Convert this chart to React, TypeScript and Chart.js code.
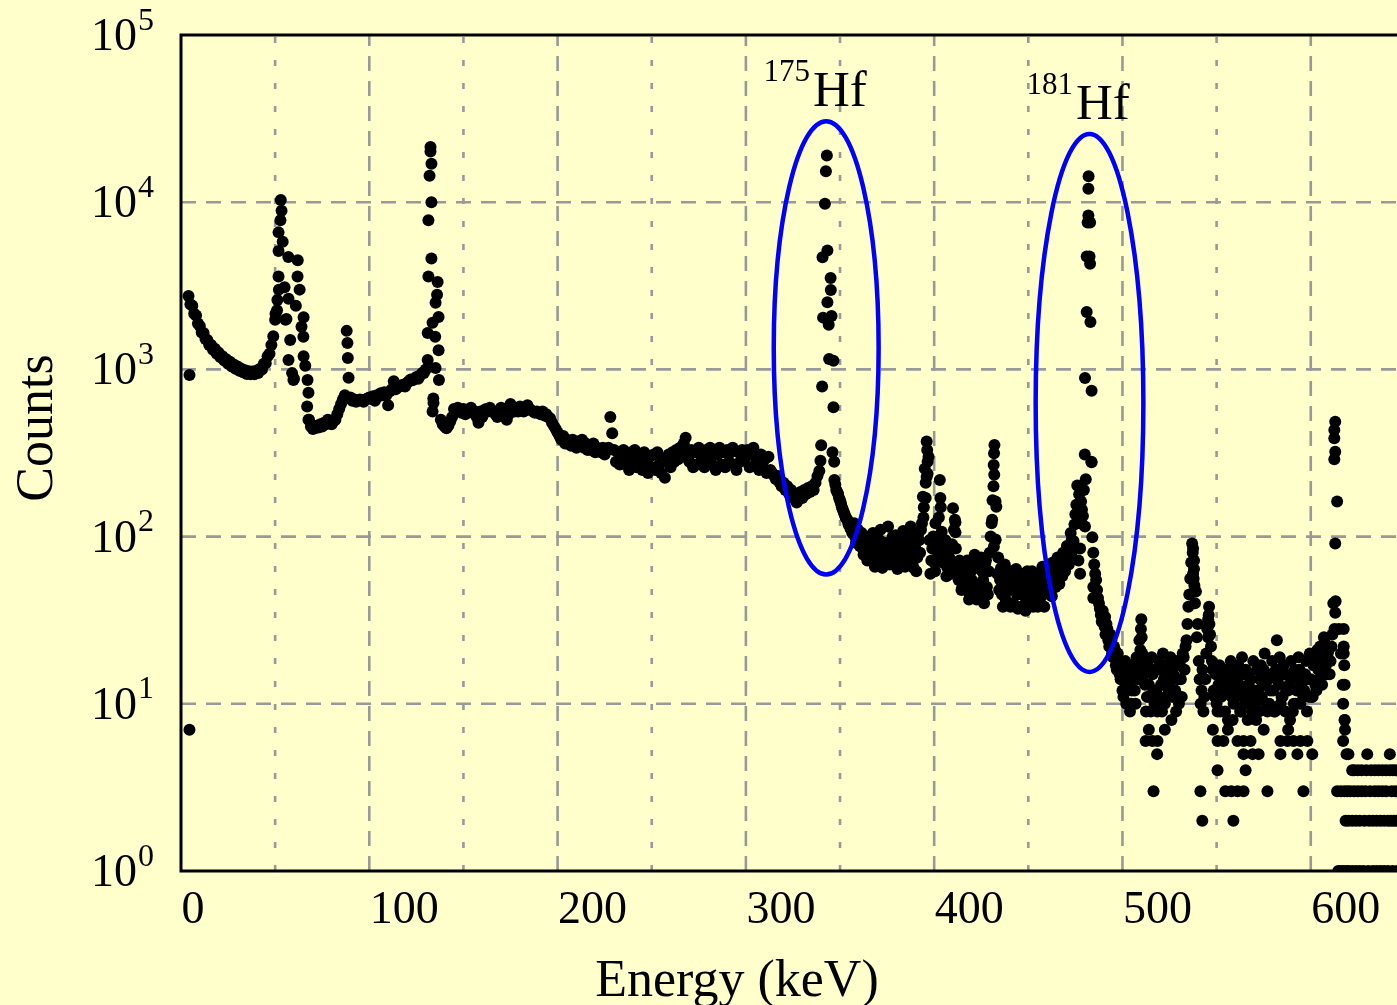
import React, { useEffect, useRef } from "react";
import { Chart, registerables } from "chart.js";

Chart.register(...registerables);

// ---------------- data ----------------
// spectrum counts, one value per keV channel; each block starts at its given energy
const KEV_PER_CHANNEL = 1;

const block004Start = 4;
const block004Counts = [
  2750, 2450, 2400, 2150, 2100, 1880, 1820, 1660, 1650, 1520,
  1500, 1400, 1400, 1310, 1330, 1240, 1260, 1180, 1200, 1130,
  1150, 1080, 1110, 1040, 1070, 1010, 1040, 980, 1010, 960,
  990, 940, 975, 935, 970, 935, 980, 950, 1010, 1000,
  1080, 1090, 1200, 1240, 1400, 1580, 1980, 2260, 3000, 10300,
  5800, 3100, 2000, 4700, 1500, 950, 880, 2400, 4500, 3000,
  1800, 1570, 1050, 600, 500, 455, 440, 445, 460, 450,
  470, 455, 480, 470, 500, 480, 470, 490, 500, 540,
  580, 620, 660, 700, 1700, 890, 680, 650, 660, 640,
  650, 660, 655, 640, 660, 670,
];

const block100Start = 100;
const block100Counts = [
  680, 665, 690, 650, 700, 690, 720, 700, 730, 700,
  610, 740, 760, 850, 760, 780, 790, 800, 810, 790,
  830, 850, 870, 860, 880, 900, 880, 920, 950, 950,
  1000, 1650, 14400, 17000, 670, 1570, 2800, 865, 500, 470,
  455, 445, 460, 490, 520, 580, 560, 590, 570, 550,
  580, 540, 570, 560, 590, 550, 560, 520, 480, 560,
  520, 570, 580, 560, 590, 570, 560, 540, 520, 560,
  590, 570, 560, 500, 540, 620, 570, 560, 580, 560,
  600, 570, 560, 580, 610, 580, 570, 560, 550, 560,
  550, 540, 560, 530, 540, 520, 510, 480, 460, 440,
];

const block200Start = 200;
const block200Counts = [
  420, 400, 380, 400, 360, 380, 370, 350, 380, 360,
  340, 370, 350, 380, 340, 360, 330, 350, 330, 360,
  320, 340, 330, 320, 340, 310, 330, 340, 520, 415,
  330, 280, 320, 270, 310, 330, 270, 300, 250, 320,
  280, 330, 260, 310, 290, 250, 320, 270, 240, 300,
  260, 310, 250, 320, 270, 240, 290, 225, 280, 310,
  260, 320, 280, 330, 290, 340, 300, 360, 390, 320,
  280, 330, 260, 320, 270, 340, 280, 320, 260, 330,
  290, 340, 270, 320, 250, 310, 340, 270, 320, 260,
  330, 280, 320, 340, 270, 250, 320, 280, 330, 290,
];

const block300Start = 300;
const block300Counts = [
  300, 330, 260, 310, 340, 270, 300, 250, 310, 260,
  290, 240, 300, 250, 240, 230, 220, 230, 210, 200,
  210, 190, 200, 180, 190, 170, 180, 160, 175, 185,
  170, 190, 180, 195, 185, 200, 190, 210, 230, 247,
  352, 2040, 9780, 19000, 1850, 3520, 320, 218, 190, 180,
  165, 150, 140, 130, 125, 120, 110, 115, 100, 105,
  95, 100, 85, 95, 80, 90, 75, 88, 70, 90,
  78, 95, 72, 85, 68, 80, 90, 70, 100, 75,
  85, 65, 90, 72, 95, 80, 105, 70, 90, 65,
  85, 75, 95, 110, 173, 255, 370, 300, 60, 85,
];

const block400Start = 400;
const block400Counts = [
  70, 90, 75, 218, 107, 80, 95, 65, 75, 60,
  148, 126, 70, 55, 65, 50, 60, 48, 58, 45,
  55, 70, 50, 65, 45, 75, 55, 68, 50, 62,
  100, 165, 353, 151, 75, 55, 45, 60, 42, 55,
  48, 62, 40, 58, 45, 52, 38, 60, 44, 55,
  40, 50, 62, 42, 55, 38, 48, 60, 45, 52,
  65, 50, 58, 70, 55, 65, 60, 72, 58, 70,
  75, 80, 72, 95, 94, 136, 202, 179, 162, 133,
  310, 2205, 14300, 1920, 99, 68, 55, 43, 37, 31,
  33, 26, 28, 22, 24, 19, 21, 16, 18, 14,
];

const block500Start = 500;
const block500Counts = [
  12, 15, 10, 13, 9, 12, 14, 10, 16, 24,
  32, 18, 13, 11, 13, 9, 15, 10, 12, 11,
  16, 9, 14, 11, 17, 13, 8, 15, 12, 18,
  10, 14, 20, 16, 24, 38, 56, 91, 72, 47,
  30, 14, 12, 9, 14, 28, 38, 22, 16, 11,
  10, 13, 9, 15, 12, 12, 8, 14, 11, 10,
  16, 12, 13, 9, 15, 10, 11, 13, 14, 9,
  12, 8, 12, 14, 11, 16, 13, 9, 10, 15,
  12, 9, 24, 13, 10, 11, 15, 12, 12, 8,
  14, 10, 10, 14, 16, 13, 11, 15, 9, 11,
];

const block600Start = 600;
const block600Counts = [
  14, 11, 18, 12, 16, 22, 13, 25, 17, 20,
  15, 22, 40, 487, 162, 28, 20, 13, 8, 5,
  1, 3, 2, 4, 1, 3, 2, 4, 1, 3,
  5, 2, 4, 1, 3, 2, 4, 1, 3, 2,
  4, 1, 5, 3, 2, 4, 1,
];

// half-keV channels between the blocks above (noisy region 347.5 ... 611.5 keV)
const halfStepStart = 347.5;
const halfStepCounts = [
  205, 185, 170, 158, 145, 135, 128, 118, 112, 105,
  120, 92, 110, 88, 105, 78, 100, 72, 95, 82,
  105, 66, 98, 70, 110, 65, 92, 75, 115, 68,
  95, 80, 102, 64, 98, 78, 108, 66, 92, 76,
  115, 68, 96, 62, 104, 80, 120, 150, 210, 280,
  95, 72, 100, 62, 82, 130, 95, 70, 88, 58,
  80, 68, 90, 110, 85, 62, 72, 48, 68, 52,
  72, 42, 62, 48, 78, 42, 70, 52, 62, 40,
  72, 45, 80, 120, 200, 95, 60, 48, 65, 38,
  68, 50, 62, 38, 55, 48, 64, 37, 58, 45,
  52, 36, 62, 46, 57, 38, 60, 44, 54, 40,
  66, 38, 58, 46, 68, 44, 62, 50, 75, 52,
  66, 80, 62, 88, 68, 105, 82, 118, 155, 140,
  120, 145, 190, 220, 7550, 4730, 280, 80, 60, 48,
  40, 34, 36, 29, 30, 24, 26, 20, 22, 17,
  20, 15, 17, 11, 18, 13, 16, 10, 17, 12,
  19, 14, 21, 20, 15, 9, 17, 11, 19, 12,
  16, 9, 18, 13, 20, 10, 15, 12, 19, 11,
  17, 9, 14, 17, 11, 19, 22, 30, 45, 70,
  60, 40, 25, 18, 10, 16, 11, 20, 32, 26,
  18, 12, 15, 9, 17, 11, 14, 9, 16, 13,
  18, 8, 14, 11, 17, 9, 19, 12, 16, 8,
  15, 11, 18, 10, 16, 9, 17, 13, 20, 10,
  14, 12, 18, 9, 16, 14, 19, 11, 17, 9,
  15, 13, 18, 9, 16, 12, 19, 10, 15, 12,
  18, 14, 20, 11, 17, 13, 21, 14, 19, 17,
  23, 15, 21, 18, 26,
];

// extra channels inside peaks and scattered points (energy keV, counts)
const xrayEnergy = [4.5, 4.5, 53.4, 52.8, 51.8, 51.8, 51.8, 61.9, 51.2, 57.1, 50.2, 55.5, 65.1, 57.1, 59.7, 65.1, 67.2, 67.7, 67.7, 69.8, 88.4, 88.6];
const xrayCounts = [925, 7, 8900, 7800, 6600, 5100, 3600, 3600, 2600, 2650, 2150, 1980, 2050, 1140, 865, 1200, 865, 725, 500, 455, 1440, 1170];

const peak133Energy = [132.5, 132.5, 133.0, 131.4, 133.0, 131.4, 136.3, 135.2, 136.8, 133.6, 136.8, 131.0, 135.2, 134.1, 133.6];
const peak133Counts = [21400, 20100, 10000, 7800, 4600, 3600, 3330, 2500, 2060, 1900, 1300, 1140, 1020, 630, 560];

const peak343Energy = [342.5, 343.3, 340.7, 345.1, 343.3, 345.5, 344.2, 346.5, 340.5, 346.5, 346.9, 339.6];
const peak343Counts = [15300, 5140, 4680, 2980, 2520, 2085, 1153, 1125, 789, 593, 280, 284];

const peak396Energy = [396.3, 396.5, 396.0, 395.5, 394.3, 403.3, 403.5, 400.7, 411.3, 411.3];
const peak396Counts = [330, 238, 227, 170, 130, 170, 150, 120, 122, 106];

const peak432Energy = [431.8, 431.6, 431.9, 432.6, 430.8, 432.6, 431.7];
const peak432Counts = [315, 268, 234, 162, 126, 96, 87];

const peak482Energy = [481.9, 481.9, 482.8, 481.0, 482.8, 480.1, 483.6, 483.6, 480.1, 477.5, 476.6, 477.5, 484.5, 484.5, 490.8];
const peak482Counts = [12050, 8340, 7550, 4730, 4290, 887, 745, 278, 115, 85, 72, 60, 50, 43, 33];

const tailPeakEnergy = [509.8, 510.2, 537.5, 537.3, 538.0, 537.8, 538.2, 545.8, 546.2, 545.5, 612.5, 612.5, 613.0, 612.5, 613.0, 613.2, 613.0, 612.6, 617.5, 617.5, 617.5, 617.8, 618.0, 617.2, 618.0, 618.2, 617.2];
const tailPeakCounts = [28, 25, 85, 80, 64, 56, 51, 34, 30, 25, 434, 387, 322, 290, 91, 41, 35, 28, 28, 22, 20, 17, 13, 10, 8, 7, 6];

const tailLowEnergy = [
  512.3, 515.9, 518.6, 550.5, 553.6, 561.1, 564.3, 568.0, 583.9, 587.6, 590.8, 594.5, 598.2,
  518.4, 564.3, 569.1, 572.3, 583.9, 592.9, 600.8,
  550.5, 565.4,
  516.5, 541.4, 554.6, 557.8, 561.1, 564.3, 577.0, 596.1,
  542.4, 558.9,
  514.0, 522.5, 548.0, 556.0, 575.0, 588.0,
];
const tailLowCounts = [
  6, 6, 6, 6, 6, 6, 6, 6, 6, 6, 6, 6, 6,
  5, 5, 5, 5, 5, 5, 5,
  4, 4,
  3, 3, 3, 3, 3, 3, 3, 3,
  2, 2,
  7, 7, 7, 7, 7, 7,
];

const tailRowEnergy = [
  614.6, 616, 617.5, 619, 622, 626, 630.5, 635, 639, 643.5,
  618.5, 620, 624, 628.5, 633, 637, 641, 642.5, 645.5,
  614, 616, 618, 619.5, 623, 627, 631.5, 636, 640, 645,
  622, 625, 629.5, 634, 638, 642, 643.5,
  620,
];
const tailRowCounts = [
  1, 1, 1, 1, 1, 1, 1, 1, 1, 1,
  2, 2, 2, 2, 2, 2, 2, 2, 2,
  3, 3, 3, 3, 3, 3, 3, 3, 3, 3,
  4, 4, 4, 4, 4, 4, 4,
  5,
];

// axes
const xMin = 0;
const xMax = 645.8;
const xTickValues = [0, 100, 200, 300, 400, 500, 600];
const xMinorGrid = [50, 150, 250, 350, 450, 550];
const yDecades = [0, 1, 2, 3, 4, 5];
const xTitle = "Energy (keV)";
const yTitle = "Counts";

// annotations: isotope labels and ellipses (energy keV / counts)
const labelMass = ["175", "181"];
const labelElement = ["Hf", "Hf"];
const labelEnergy = [335.6, 475.3];
const labelCounts = [37600, 31500];

const ellipseEnergyMin = [314.8, 453.9];
const ellipseEnergyMax = [370.5, 511.1];
const ellipseCountsMin = [59.4, 15.5];
const ellipseCountsMax = [30500, 25600];

// ---------------- style ----------------
const W = 1397;
const H = 1005;
const BG = "#FFFFCC";
const GRID = "#999999";
const FONT = '"Liberation Serif", "Times New Roman", serif';

function buildPoints() {
  const pts: { x: number; y: number }[] = [];
  const blocks: [number, number[]][] = [
    [block004Start, block004Counts],
    [block100Start, block100Counts],
    [block200Start, block200Counts],
    [block300Start, block300Counts],
    [block400Start, block400Counts],
    [block500Start, block500Counts],
    [block600Start, block600Counts],
    [halfStepStart, halfStepCounts],
  ];
  blocks.forEach(([start, counts]) =>
    counts.forEach((c, i) => pts.push({ x: start + i * KEV_PER_CHANNEL, y: c }))
  );
  const extras: [number[], number[]][] = [
    [xrayEnergy, xrayCounts],
    [peak133Energy, peak133Counts],
    [peak343Energy, peak343Counts],
    [peak396Energy, peak396Counts],
    [peak432Energy, peak432Counts],
    [peak482Energy, peak482Counts],
    [tailPeakEnergy, tailPeakCounts],
    [tailLowEnergy, tailLowCounts],
    [tailRowEnergy, tailRowCounts],
  ];
  extras.forEach(([es, cs]) => es.forEach((e, i) => pts.push({ x: e, y: cs[i] })));
  return pts;
}

const decorPlugin = {
  id: "decor",
  beforeDatasetsDraw(chart: any) {
    const { ctx, chartArea: a, scales } = chart;
    const xs = scales.x;
    const ys = scales.y;
    ctx.save();
    ctx.strokeStyle = GRID;
    ctx.lineWidth = 2.6;
    ctx.lineCap = "butt";
    ctx.setLineDash([15, 10]);
    yDecades.forEach((d) => {
      if (d === 0 || d === 5) return;
      const y = ys.getPixelForValue(Math.pow(10, d));
      ctx.beginPath();
      ctx.moveTo(a.left, y);
      ctx.lineTo(a.right, y);
      ctx.stroke();
    });
    xTickValues.forEach((v) => {
      if (v === 0) return;
      const x = xs.getPixelForValue(v);
      ctx.beginPath();
      ctx.moveTo(x, a.bottom);
      ctx.lineTo(x, a.top);
      ctx.stroke();
    });
    ctx.setLineDash([6, 17]);
    xMinorGrid.forEach((v) => {
      const x = xs.getPixelForValue(v);
      ctx.beginPath();
      ctx.moveTo(x, a.bottom);
      ctx.lineTo(x, a.top);
      ctx.stroke();
    });
    ctx.restore();
  },
  afterDatasetsDraw(chart: any) {
    const { ctx, chartArea: a, scales } = chart;
    const xs = scales.x;
    const ys = scales.y;
    ctx.save();
    // frame (left, top, bottom)
    ctx.setLineDash([]);
    ctx.strokeStyle = "#000";
    ctx.lineWidth = 3;
    ctx.lineJoin = "miter";
    ctx.beginPath();
    ctx.moveTo(a.right + 5, a.top);
    ctx.lineTo(a.left, a.top);
    ctx.lineTo(a.left, a.bottom);
    ctx.lineTo(a.right + 5, a.bottom);
    ctx.stroke();

    // ellipses
    ctx.strokeStyle = "#0000FF";
    ctx.lineWidth = 4.5;
    ellipseEnergyMin.forEach((e0, i) => {
      const x0 = xs.getPixelForValue(e0);
      const x1 = xs.getPixelForValue(ellipseEnergyMax[i]);
      const y0 = ys.getPixelForValue(ellipseCountsMax[i]);
      const y1 = ys.getPixelForValue(ellipseCountsMin[i]);
      ctx.beginPath();
      ctx.ellipse((x0 + x1) / 2, (y0 + y1) / 2, (x1 - x0) / 2, (y1 - y0) / 2, 0, 0, Math.PI * 2);
      ctx.stroke();
    });

    // isotope labels
    ctx.fillStyle = "#000";
    ctx.textBaseline = "alphabetic";
    labelElement.forEach((el, i) => {
      const x = xs.getPixelForValue(labelEnergy[i]);
      const y = ys.getPixelForValue(labelCounts[i]);
      ctx.font = `51px ${FONT}`;
      ctx.textAlign = "left";
      ctx.fillText(el, x, y);
      ctx.font = `31px ${FONT}`;
      ctx.textAlign = "right";
      ctx.fillText(labelMass[i], x - 3, y - 25);
    });

    // y tick labels 10^n
    yDecades.forEach((d) => {
      const y = ys.getPixelForValue(Math.pow(10, d));
      ctx.font = `46px ${FONT}`;
      ctx.textAlign = "right";
      ctx.fillText("10", 137, y + 15);
      ctx.font = `32px ${FONT}`;
      ctx.textAlign = "left";
      ctx.fillText(String(d), 138, y - 5.5);
    });

    // x tick labels
    ctx.font = `46px ${FONT}`;
    ctx.textAlign = "left";
    xTickValues.forEach((v) => {
      const x = xs.getPixelForValue(v);
      ctx.fillText(String(v), x + 0.5, 923);
    });

    // axis titles
    ctx.font = `52px ${FONT}`;
    ctx.textAlign = "center";
    ctx.fillText(xTitle, 737, 996);
    ctx.save();
    ctx.translate(52, 428);
    ctx.rotate(-Math.PI / 2);
    ctx.fillText(yTitle, 0, 0);
    ctx.restore();

    ctx.restore();
  },
};

export default function App() {
  const ref = useRef<HTMLCanvasElement | null>(null);

  useEffect(() => {
    const canvas = ref.current;
    if (!canvas) return;
    const chart = new Chart(canvas, {
      type: "scatter",
      data: {
        datasets: [
          {
            data: buildPoints(),
            pointRadius: 6,
            pointHoverRadius: 6,
            pointBorderWidth: 0,
            pointBackgroundColor: "#000",
            pointBorderColor: "#000",
            showLine: false,
          },
        ],
      },
      options: {
        animation: false,
        responsive: false,
        devicePixelRatio: 1,
        events: [],
        layout: { autoPadding: false, padding: { top: 35, left: 0, right: 0, bottom: 0 } },
        plugins: {
          legend: { display: false },
          tooltip: { enabled: false },
          title: { display: false },
        },
        scales: {
          x: {
            type: "linear",
            min: xMin,
            max: xMax,
            grid: { display: false },
            border: { display: false },
            ticks: { display: false },
            afterFit: (s: any) => {
              s.height = 134;
              s.paddingLeft = 0;
              s.paddingRight = 0;
            },
          },
          y: {
            type: "logarithmic",
            min: 1,
            max: 100000,
            grid: { display: false },
            border: { display: false },
            ticks: { display: false },
            afterFit: (s: any) => {
              s.width = 181;
              s.paddingTop = 0;
              s.paddingBottom = 0;
            },
          },
        },
      },
      plugins: [decorPlugin],
    } as any);
    return () => chart.destroy();
  }, []);

  return (
    <div
      style={{
        position: "fixed",
        left: 0,
        top: 0,
        width: W,
        height: H,
        background: BG,
        overflow: "hidden",
      }}
    >
      <canvas ref={ref} width={W} height={H} style={{ display: "block", width: W, height: H }} />
    </div>
  );
}
